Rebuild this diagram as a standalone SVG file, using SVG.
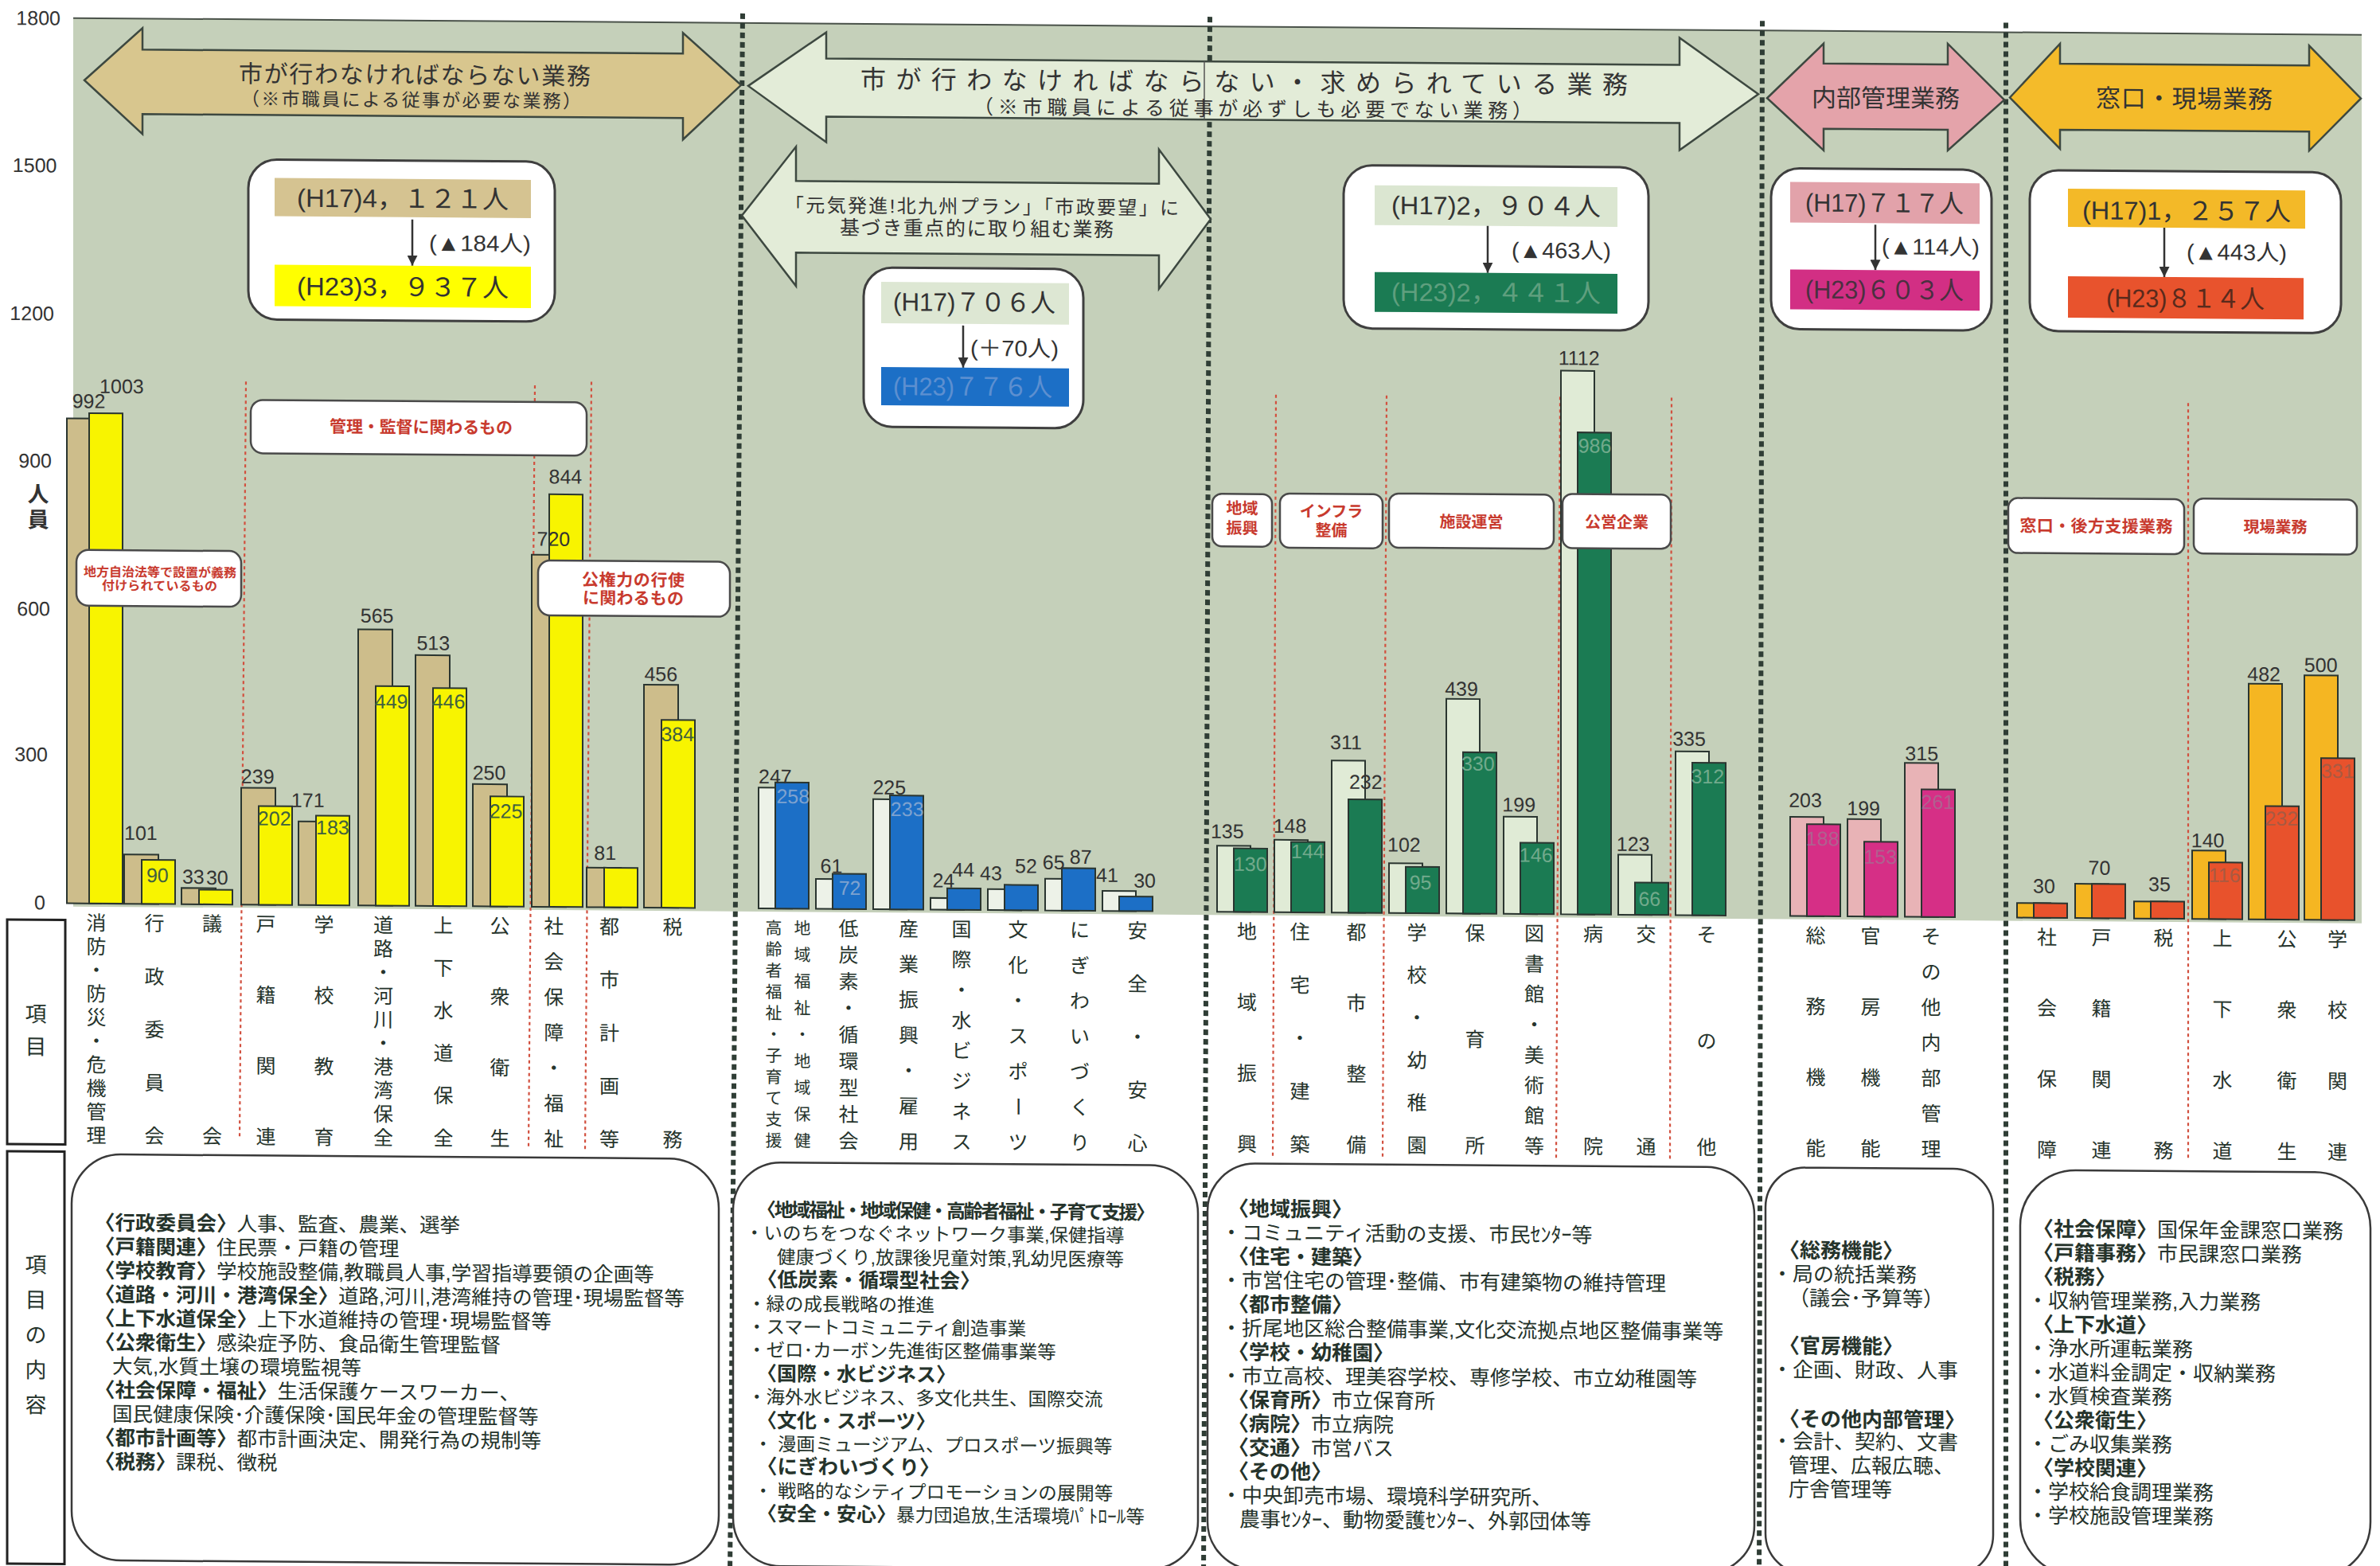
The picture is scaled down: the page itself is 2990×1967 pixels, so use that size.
<svg xmlns="http://www.w3.org/2000/svg" width="2990" height="1967" viewBox="0 0 2990 1967">
<defs>
<style>
.jp{font-family:'Liberation Sans','Noto Sans CJK JP',sans-serif}
.num{font-family:'Liberation Sans','Noto Sans CJK JP',sans-serif;font-size:25px;fill:#333;text-anchor:middle}
.ax{font-family:'Liberation Sans',sans-serif;font-size:25px;fill:#333;text-anchor:end}
.iy{fill:#3f6040}.ib{fill:#7ea2cf}.ig{fill:#72aa8c}.ip{fill:#b0608f}.io{fill:#a85a42}
.dv{stroke:#2f3d35;stroke-width:6;stroke-dasharray:7 5;fill:none}
.rd{stroke:#d2503f;stroke-width:2.2;stroke-dasharray:4 4;fill:none}
.bar{stroke:#2a3530;stroke-width:2}
.s1a{fill:#cdbd8b}.s1b{fill:#f8f400}.s2a{fill:#edf2e8}.s2b{fill:#1c6fc6}.s3a{fill:#e0ebd6}.s3b{fill:#1b7b53}
.s4a{fill:#e8b3b6}.s4b{fill:#d62f86}.s5a{fill:#f5b622}.s5b{fill:#e8522c}
.arw{stroke:#3d4840;stroke-width:2.5}
.at{font-family:'Liberation Sans','Noto Sans CJK JP',sans-serif;fill:#333;text-anchor:middle}
.sbox{fill:#fff;stroke:#3f3f3f;stroke-width:3}
.bt{font-family:'Liberation Sans','Noto Sans CJK JP',sans-serif;font-size:32px;fill:#333;text-anchor:middle}
.dt{font-family:'Liberation Sans','Noto Sans CJK JP',sans-serif;font-size:28px;fill:#333;text-anchor:middle}
.sar{stroke:#333;stroke-width:2.5}
.cat{fill:#fff;stroke:#4a4a4a;stroke-width:2.5}
.ctt{font-family:'Liberation Sans','Noto Sans CJK JP',sans-serif;font-weight:bold;fill:#c83a2e;text-anchor:middle}
.it{font-family:'Noto Sans CJK JP',sans-serif;font-size:25px;fill:#26342c;text-anchor:middle}
.it2{font-family:'Noto Sans CJK JP',sans-serif;font-size:21px;fill:#26342c;text-anchor:middle}
.lb{fill:#fff;stroke:#222;stroke-width:3}
.lt{font-family:'Noto Sans CJK JP',sans-serif;font-size:27px;fill:#26342c;text-anchor:middle}
.cb{fill:#fff;stroke:#3a3a3a;stroke-width:2.5}
.ct{font-family:'Liberation Sans','Noto Sans CJK JP',sans-serif;fill:#25332b}
.b{font-weight:bold}
</style>
<marker id="ah" viewBox="0 0 10 10" refX="10" refY="5" markerWidth="13" markerHeight="13" markerUnits="userSpaceOnUse" orient="auto"><path d="M0,0 L10,5 L0,10 z" fill="#333"/></marker>
</defs>
<rect x="0" y="0" width="2990" height="1967" fill="#fff"/>
<g transform="skewY(0.42)">
<g id="chart-bg">
<rect x="92" y="22" width="2875" height="1116" fill="#c5d0ba"/>
<line x1="92" y1="22" x2="2967" y2="22" stroke="#4a524a" stroke-width="2"/>
</g>
<g id="connectors">
<line class="dv" x1="933" y1="10" x2="917" y2="1975"/>
<line class="dv" x1="1520" y1="10" x2="1512" y2="1975"/>
<line class="dv" x1="2214" y1="10" x2="2210" y2="1975"/>
<line class="dv" x1="2520" y1="10" x2="2520" y2="1975"/>
<line class="rd" x1="309" y1="477" x2="301" y2="1428"/>
<line class="rd" x1="672" y1="479" x2="664" y2="1436"/>
<line class="rd" x1="743" y1="474" x2="735" y2="1438"/>
<line class="rd" x1="1603" y1="484" x2="1599" y2="1440"/>
<line class="rd" x1="1742" y1="484" x2="1737" y2="1440"/>
<line class="rd" x1="1960" y1="484" x2="1955" y2="1440"/>
<line class="rd" x1="2100" y1="484" x2="2098" y2="1440"/>
<line class="rd" x1="2749" y1="486" x2="2749" y2="1435"/>
</g>
<g id="y-axis">
<text class="ax" x="76" y="31">1800</text>
<text class="ax" x="71.5" y="216">1500</text>
<text class="ax" x="68" y="402">1200</text>
<text class="ax" x="65" y="587">900</text>
<text class="ax" x="63" y="773">600</text>
<text class="ax" x="60" y="956">300</text>
<text class="ax" x="57" y="1142">0</text>
<text class="jp" x="48" y="630" font-size="27" font-weight="bold" fill="#333" text-anchor="middle">人</text>
<text class="jp" x="48" y="662" font-size="27" font-weight="bold" fill="#333" text-anchor="middle">員</text>
</g>
<g id="arrow-must">
<polygon class="arw" fill="#d8c68e" points="106,100 179,34 179,61 858,61 858,35 931,100 858,169 858,142 179,142 179,167"/>
<text class="at" x="521" y="101" font-size="30" textLength="442">市が行わなければならない業務</text>
<text class="at" x="516.5" y="130" font-size="23" textLength="427">（※市職員による従事が必要な業務）</text>
</g>
<g id="arrow-required">
<polygon class="arw" fill="#e3ecd8" points="940,101 1038,33 1038,66 2110,66 2110,32 2209,102 2110,173 2110,139 1038,139 1038,171"/>
<line x1="1513" y1="66" x2="1513" y2="139" stroke="#555" stroke-width="1.5"/>
<text class="at" x="1563" y="103" font-size="32" textLength="964">市が行わなければならない・求められている業務</text>
<text class="at" x="1574" y="134" font-size="25" textLength="702">（※市職員による従事が必ずしも必要でない業務）</text>
</g>
<g id="arrow-plan">
<polygon class="arw" fill="#e3ecd8" points="932,264 1000,177 1000,220 1456,220 1456,177 1521,264 1456,352 1456,310 1000,310 1000,352"/>
<text class="at" x="1233.5" y="259" font-size="24" textLength="495">「元気発進!北九州プラン」「市政要望」に</text>
<text class="at" x="1227" y="287" font-size="25" textLength="344">基づき重点的に取り組む業務</text>
</g>
<g id="arrow-internal">
<polygon class="arw" fill="#e4a3aa" points="2220,107 2291,38 2291,63 2447,63 2447,37 2518,107 2447,171 2447,145 2291,145 2291,172"/>
<text class="at" x="2369" y="117" font-size="31" textLength="186">内部管理業務</text>
</g>
<g id="arrow-window">
<polygon class="arw" fill="#f4bb2a" points="2525,104 2588,36 2588,61 2901,61 2901,36 2966,102 2901,168 2901,144 2588,144 2588,168"/>
<text class="at" x="2744" y="115" font-size="31" textLength="222">窓口・現場業務</text>
</g>
<g id="summary-must">
<rect class="sbox" x="312" y="198" width="385" height="201" rx="36"/>
<rect x="345" y="221" width="322" height="48" fill="#d5c391"/>
<text class="bt" x="506" y="257" textLength="266" lengthAdjust="spacingAndGlyphs">(H17)4，１２１人</text>
<line class="sar" x1="518" y1="272" x2="518" y2="330" marker-end="url(#ah)"/>
<text class="dt" x="603" y="311" textLength="128" lengthAdjust="spacingAndGlyphs">(▲184人)</text>
<rect x="345" y="330" width="322" height="52" fill="#ffff00"/>
<text class="bt" x="506" y="368" textLength="266" lengthAdjust="spacingAndGlyphs">(H23)3，９３７人</text>
</g>
<g id="summary-plan">
<rect class="sbox" x="1085" y="328" width="276" height="200" rx="36"/>
<rect x="1107" y="346" width="236" height="52" fill="#dde7d3"/>
<text class="bt" x="1224" y="382" textLength="204" lengthAdjust="spacingAndGlyphs">(H17)７０６人</text>
<line class="sar" x1="1210" y1="400" x2="1210" y2="453" marker-end="url(#ah)"/>
<text class="dt" x="1274.5" y="438" textLength="111" lengthAdjust="spacingAndGlyphs">(＋70人)</text>
<rect x="1107" y="453" width="236" height="48" fill="#1c6fc6"/>
<text class="bt" x="1222" y="488" textLength="200" lengthAdjust="spacingAndGlyphs" style="fill:#5d8fd0">(H23)７７６人</text>
</g>
<g id="summary-required">
<rect class="sbox" x="1688" y="195" width="383" height="205" rx="36"/>
<rect x="1727" y="220" width="305" height="50" fill="#dbe6d1"/>
<text class="bt" x="1879.5" y="256" textLength="263" lengthAdjust="spacingAndGlyphs">(H17)2，９０４人</text>
<line class="sar" x1="1869" y1="270" x2="1869" y2="329" marker-end="url(#ah)"/>
<text class="dt" x="1961.5" y="310" textLength="125" lengthAdjust="spacingAndGlyphs">(▲463人)</text>
<rect x="1727" y="329" width="305" height="50" fill="#1b7b53"/>
<text class="bt" x="1879.5" y="365" textLength="263" lengthAdjust="spacingAndGlyphs" style="fill:#5f9f7e">(H23)2，４４１人</text>
</g>
<g id="summary-internal">
<rect class="sbox" x="2225" y="195" width="277" height="202" rx="36"/>
<rect x="2249" y="212" width="238" height="51" fill="#e2a2aa"/>
<text class="bt" x="2367.5" y="249" textLength="199" lengthAdjust="spacingAndGlyphs">(H17)７１７人</text>
<line class="sar" x1="2356" y1="265" x2="2356" y2="322" marker-end="url(#ah)"/>
<text class="dt" x="2425.5" y="302" textLength="123" lengthAdjust="spacingAndGlyphs">(▲114人)</text>
<rect x="2249" y="322" width="238" height="50" fill="#d22f84"/>
<text class="bt" x="2367.5" y="358" textLength="199" lengthAdjust="spacingAndGlyphs" style="fill:#4a3040">(H23)６０３人</text>
</g>
<g id="summary-window">
<rect class="sbox" x="2550" y="195" width="391" height="202" rx="36"/>
<rect x="2598" y="218" width="298" height="48" fill="#f3b928"/>
<text class="bt" x="2747" y="256" textLength="262" lengthAdjust="spacingAndGlyphs">(H17)1，２５７人</text>
<line class="sar" x1="2719" y1="266" x2="2719" y2="328" marker-end="url(#ah)"/>
<text class="dt" x="2810" y="306" textLength="126" lengthAdjust="spacingAndGlyphs">(▲443人)</text>
<rect x="2598" y="328" width="296" height="52" fill="#e8532d"/>
<text class="bt" x="2745.5" y="366" textLength="199" lengthAdjust="spacingAndGlyphs" style="fill:#5a2a1c">(H23)８１４人</text>
</g>
<g id="bars-must">
<rect class="bar s1a" x="84" y="524.9" width="43" height="609.1"/><rect class="bar s1b" x="112" y="518.2" width="42" height="615.8"/>
<rect class="bar s1a" x="156" y="1072" width="43" height="62"/><rect class="bar s1b" x="178" y="1078.7" width="42" height="55.3"/>
<rect class="bar s1a" x="228" y="1113.7" width="43" height="20.3"/><rect class="bar s1b" x="250" y="1115.6" width="42" height="18.4"/>
<rect class="bar s1a" x="303" y="987.3" width="43" height="146.7"/><rect class="bar s1b" x="325" y="1010" width="42" height="124"/>
<rect class="bar s1a" x="375" y="1029" width="43" height="105"/><rect class="bar s1b" x="397" y="1021.6" width="42" height="112.4"/>
<rect class="bar s1a" x="450" y="787.1" width="43" height="346.9"/><rect class="bar s1b" x="472" y="858.3" width="42" height="275.7"/>
<rect class="bar s1a" x="522" y="819" width="43" height="315"/><rect class="bar s1b" x="544" y="860.2" width="42" height="273.8"/>
<rect class="bar s1a" x="594" y="980.5" width="43" height="153.5"/><rect class="bar s1b" x="616" y="995.8" width="42" height="138.2"/>
<rect class="bar s1a" x="668" y="691.9" width="43" height="442.1"/><rect class="bar s1b" x="690" y="615.8" width="42" height="518.2"/>
<rect class="bar s1a" x="737" y="1084.3" width="43" height="49.7"/><rect class="bar s1b" x="759" y="1084.3" width="42" height="49.7"/>
<rect class="bar s1a" x="809" y="854" width="43" height="280"/><rect class="bar s1b" x="831" y="898.2" width="42" height="235.8"/>
<text class="num" x="111.5" y="511.7">992</text><text class="num" x="152.9" y="492.9">1003</text>
<text class="num" x="176.9" y="1053.7">101</text><text class="num iy" x="197.8" y="1106.6">90</text>
<text class="num" x="242.8" y="1108.2">33</text><text class="num" x="272.8" y="1109">30</text>
<text class="num" x="323.7" y="981.6">239</text><text class="num iy" x="344.7" y="1034.2">202</text>
<text class="num" x="386.7" y="1011">171</text><text class="num iy" x="417.9" y="1045">183</text>
<text class="num" x="473.6" y="778.5">565</text><text class="num iy" x="491.6" y="886.2">449</text>
<text class="num" x="544.3" y="812.4">513</text><text class="num iy" x="563.5" y="885.7">446</text>
<text class="num" x="614.5" y="974.8">250</text><text class="num iy" x="635.5" y="1022.9">225</text>
<text class="num" x="695.4" y="680.5">720</text><text class="num" x="710.4" y="602.3">844</text>
<text class="num" x="760.2" y="1074.5">81</text>
<text class="num" x="830.3" y="849.3">456</text><text class="num iy" x="851.3" y="924.8">384</text>
</g>
<g id="bars-plan">
<rect class="bar s2a" x="953" y="982.3" width="42" height="151.7"/><rect class="bar s2b" x="974" y="975.6" width="42" height="158.4"/>
<rect class="bar s2a" x="1025" y="1096.5" width="42" height="37.5"/><rect class="bar s2b" x="1046" y="1089.8" width="42" height="44.2"/>
<rect class="bar s2a" x="1097" y="995.8" width="42" height="138.2"/><rect class="bar s2b" x="1118" y="990.9" width="42" height="143.1"/>
<rect class="bar s2a" x="1169" y="1119.3" width="42" height="14.7"/><rect class="bar s2b" x="1190" y="1107" width="42" height="27"/>
<rect class="bar s2a" x="1241" y="1107.6" width="42" height="26.4"/><rect class="bar s2b" x="1262" y="1102.1" width="42" height="31.9"/>
<rect class="bar s2a" x="1313" y="1094.1" width="42" height="39.9"/><rect class="bar s2b" x="1334" y="1080.6" width="42" height="53.4"/>
<rect class="bar s2a" x="1385" y="1108.8" width="42" height="25.2"/><rect class="bar s2b" x="1406" y="1115.6" width="42" height="18.4"/>
<text class="num" x="973.9" y="976.9">247</text><text class="num ib" x="996.3" y="1001.7">258</text>
<text class="num" x="1044.4" y="1088.8">61</text><text class="num ib" x="1067.6" y="1116.2">72</text>
<text class="num" x="1117.3" y="989.5">225</text><text class="num ib" x="1139.7" y="1016.7">233</text>
<text class="num" x="1185.3" y="1106">24</text><text class="num" x="1210.2" y="1092.2">44</text>
<text class="num" x="1245" y="1096.5">43</text><text class="num" x="1288.9" y="1087">52</text>
<text class="num" x="1323.7" y="1082.1">65</text><text class="num" x="1357.7" y="1075.1">87</text>
<text class="num" x="1390.9" y="1097.6">41</text><text class="num" x="1438.1" y="1104.2">30</text>
</g>
<g id="bars-required">
<rect class="bar s3a" x="1529" y="1051.1" width="42" height="82.9"/><rect class="bar s3b" x="1550" y="1054.2" width="42" height="79.8"/>
<rect class="bar s3a" x="1601" y="1043.1" width="42" height="90.9"/><rect class="bar s3b" x="1622" y="1045.6" width="42" height="88.4"/>
<rect class="bar s3a" x="1673" y="943" width="42" height="191"/><rect class="bar s3b" x="1694" y="991.6" width="42" height="142.4"/>
<rect class="bar s3a" x="1745" y="1071.4" width="42" height="62.6"/><rect class="bar s3b" x="1766" y="1075.7" width="42" height="58.3"/>
<rect class="bar s3a" x="1817" y="864.5" width="42" height="269.5"/><rect class="bar s3b" x="1838" y="931.4" width="42" height="202.6"/>
<rect class="bar s3a" x="1889" y="1011.8" width="42" height="122.2"/><rect class="bar s3b" x="1910" y="1044.4" width="42" height="89.6"/>
<rect class="bar s3a" x="1961" y="451.2" width="42" height="682.8"/><rect class="bar s3b" x="1982" y="528.6" width="42" height="605.4"/>
<rect class="bar s3a" x="2033" y="1058.5" width="42" height="75.5"/><rect class="bar s3b" x="2054" y="1093.5" width="42" height="40.5"/>
<rect class="bar s3a" x="2105" y="928.3" width="42" height="205.7"/><rect class="bar s3b" x="2126" y="942.4" width="42" height="191.6"/>
<text class="num" x="1541.8" y="1041.5">135</text><text class="num ig" x="1570.8" y="1082.5">130</text>
<text class="num" x="1620.5" y="1034.2">148</text><text class="num ig" x="1642.9" y="1066">144</text>
<text class="num" x="1691" y="928.7">311</text><text class="num" x="1715.8" y="978.3">232</text>
<text class="num" x="1763.9" y="1056.8">102</text><text class="num ig" x="1784.6" y="1104">95</text>
<text class="num" x="1836" y="860.4">439</text><text class="num ig" x="1856.8" y="954.3">330</text>
<text class="num" x="1908.2" y="1005.4">199</text><text class="num ig" x="1929.7" y="1068.5">146</text>
<text class="num" x="1983.6" y="443.9">1112</text><text class="num ig" x="2003.5" y="553.9">986</text>
<text class="num" x="2051.6" y="1053.8">123</text><text class="num ig" x="2072.3" y="1122.6">66</text>
<text class="num" x="2122" y="921.1">335</text><text class="num ig" x="2145.3" y="968.3">312</text>
</g>
<g id="bars-internal">
<rect class="bar s4a" x="2249" y="1009.4" width="42" height="124.6"/><rect class="bar s4b" x="2270" y="1018.6" width="42" height="115.4"/>
<rect class="bar s4a" x="2321" y="1011.8" width="42" height="122.2"/><rect class="bar s4b" x="2342" y="1040.1" width="42" height="93.9"/>
<rect class="bar s4a" x="2393" y="940.6" width="42" height="193.4"/><rect class="bar s4b" x="2414" y="973.7" width="42" height="160.3"/>
<text class="num" x="2268" y="997.2">203</text><text class="num ip" x="2289.7" y="1045.3">188</text>
<text class="num" x="2341.1" y="1006.7">199</text><text class="num ip" x="2362.3" y="1067.6">153</text>
<text class="num" x="2414.2" y="937.4">315</text><text class="num ip" x="2434.4" y="998.2">261</text>
</g>
<g id="bars-window">
<rect class="bar s5a" x="2534" y="1115.6" width="42" height="18.4"/><rect class="bar s5b" x="2555" y="1115.6" width="42" height="18.4"/>
<rect class="bar s5a" x="2607" y="1091" width="42" height="43"/><rect class="bar s5b" x="2628" y="1091" width="42" height="43"/>
<rect class="bar s5a" x="2681" y="1112.5" width="42" height="21.5"/><rect class="bar s5b" x="2702" y="1112.5" width="42" height="21.5"/>
<rect class="bar s5a" x="2754" y="1048" width="42" height="86"/><rect class="bar s5b" x="2775" y="1062.8" width="42" height="71.2"/>
<rect class="bar s5a" x="2825" y="838" width="42" height="296"/><rect class="bar s5b" x="2846" y="991.6" width="42" height="142.4"/>
<rect class="bar s5a" x="2895" y="827" width="42" height="307"/><rect class="bar s5b" x="2916" y="930.8" width="42" height="203.2"/>
<text class="num" x="2567.9" y="1102.9">30</text>
<text class="num" x="2637.5" y="1079.4">70</text>
<text class="num" x="2713" y="1099.5">35</text>
<text class="num" x="2773.6" y="1044">140</text><text class="num io" x="2794.7" y="1087.4">116</text>
<text class="num" x="2844.1" y="834.6">482</text><text class="num io" x="2866.3" y="1015.8">232</text>
<text class="num" x="2915.7" y="822.6">500</text><text class="num io" x="2936.8" y="955.6">331</text>
</g>
<g id="cat-kanri">
<rect class="cat" x="315" y="500" width="422" height="67" rx="15"/>
<text class="ctt" x="529" y="540" font-size="21" textLength="230">管理・監督に関わるもの</text>
</g>
<g id="cat-gimu">
<rect class="cat" x="96" y="690" width="207" height="70" rx="15"/>
<text class="ctt" x="201" y="723" font-size="16" textLength="192">地方自治法等で設置が義務</text>
<text class="ctt" x="200.5" y="740" font-size="16" textLength="145">付けられているもの</text>
</g>
<g id="cat-kokenryoku">
<rect class="cat" x="676" y="699" width="241" height="69" rx="15"/>
<text class="ctt" x="795.5" y="730" font-size="21" textLength="129">公権力の行使</text>
<text class="ctt" x="795.5" y="753" font-size="21" textLength="127">に関わるもの</text>
</g>
<g id="cat-chiiki">
<rect class="cat" x="1523" y="609" width="75" height="66" rx="12"/>
<text class="ctt" x="1560.5" y="634" font-size="20">地域</text>
<text class="ctt" x="1560.5" y="659" font-size="20">振興</text>
</g>
<g id="cat-infra">
<rect class="cat" x="1608" y="608" width="129" height="68" rx="12"/>
<text class="ctt" x="1672.5" y="637" font-size="20">インフラ</text>
<text class="ctt" x="1672.5" y="661" font-size="20">整備</text>
</g>
<g id="cat-shisetsu">
<rect class="cat" x="1745" y="607" width="207" height="68" rx="12"/>
<text class="ctt" x="1848.5" y="649" font-size="20">施設運営</text>
</g>
<g id="cat-koei">
<rect class="cat" x="1963" y="606" width="136" height="68" rx="12"/>
<text class="ctt" x="2031" y="648" font-size="20">公営企業</text>
</g>
<g id="cat-madoguchi">
<rect class="cat" x="2523" y="607" width="221" height="69" rx="12"/>
<text class="ctt" x="2633.5" y="649" font-size="21" textLength="192">窓口・後方支援業務</text>
</g>
<g id="cat-genba">
<rect class="cat" x="2756" y="606" width="205" height="69" rx="12"/>
<text class="ctt" x="2858.5" y="648" font-size="20">現場業務</text>
</g>
<g id="label-items">
<rect class="lb" x="9" y="1155" width="73" height="282"/>
<text class="lt" x="45" y="1283">項</text>
<text class="lt" x="45" y="1324">目</text>
</g>
<g id="label-contents">
<rect class="lb" x="9" y="1446" width="72" height="518"/>
<text class="lt" x="45" y="1598">項</text>
<text class="lt" x="45" y="1642">目</text>
<text class="lt" x="45" y="1686">の</text>
<text class="lt" x="45" y="1730">内</text>
<text class="lt" x="45" y="1774">容</text>
</g>
<g id="items">
<text class="it" x="121 121 121 121 121 121 121 121 121 121" y="1167.5 1197.2 1226.8 1256.5 1286.2 1315.8 1345.5 1375.2 1404.8 1434.5">消防・防災・危機管理</text>
<text class="it" x="194 194 194 194 194" y="1167.5 1234.3 1301 1367.8 1434.5">行政委員会</text>
<text class="it" x="266.5 266.5" y="1167.5 1434.5">議会</text>
<text class="it" x="334 334 334 334" y="1167.5 1256.5 1345.5 1434.5">戸籍関連</text>
<text class="it" x="407 407 407 407" y="1167.5 1256.5 1345.5 1434.5">学校教育</text>
<text class="it" x="481.6 481.6 481.6 481.6 481.6 481.6 481.6 481.6 481.6 481.6" y="1167.5 1197.2 1226.8 1256.5 1286.2 1315.8 1345.5 1375.2 1404.8 1434.5">道路・河川・港湾保全</text>
<text class="it" x="557 557 557 557 557 557" y="1167.5 1220.9 1274.3 1327.7 1381.1 1434.5">上下水道保全</text>
<text class="it" x="628 628 628 628" y="1167.5 1256.5 1345.5 1434.5">公衆衛生</text>
<text class="it" x="695.7 695.7 695.7 695.7 695.7 695.7 695.7" y="1167.5 1212 1256.5 1301 1345.5 1390 1434.5">社会保障・福祉</text>
<text class="it" x="765.5 765.5 765.5 765.5 765.5" y="1167.5 1234.3 1301 1367.8 1434.5">都市計画等</text>
<text class="it" x="845 845" y="1167.5 1434.5">税務</text>
<text class="it2" x="972 972 972 972 972 972 972 972 972 972 972" y="1166 1192.7 1219.4 1246.1 1272.8 1299.5 1326.2 1352.9 1379.6 1406.3 1433">高齢者福祉・子育て支援</text>
<text class="it2" x="1008 1008 1008 1008 1008 1008 1008 1008 1008" y="1166 1199.4 1232.8 1266.1 1299.5 1332.9 1366.3 1399.6 1433">地域福祉・地域保健</text>
<text class="it" x="1066 1066 1066 1066 1066 1066 1066 1066 1066" y="1167.5 1200.9 1234.3 1267.6 1301 1334.4 1367.8 1401.1 1434.5">低炭素・循環型社会</text>
<text class="it" x="1141.5 1141.5 1141.5 1141.5 1141.5 1141.5 1141.5" y="1167.5 1212 1256.5 1301 1345.5 1390 1434.5">産業振興・雇用</text>
<text class="it" x="1208 1208 1208 1208 1208 1208 1208 1208" y="1167.5 1205.6 1243.8 1281.9 1320.1 1358.2 1396.4 1434.5">国際・水ビジネス</text>
<text class="it" x="1279 1279 1279 1279 1279" y="1167.5 1212 1256.5 1301 1345.5">文化・スポ</text>
<text class="it" x="1279" y="1390" transform="rotate(90 1279 1380.5)">ー</text>
<text class="it" x="1279" y="1434.5">ツ</text>
<text class="it" x="1356.6 1356.6 1356.6 1356.6 1356.6 1356.6 1356.6" y="1167.5 1212 1256.5 1301 1345.5 1390 1434.5">にぎわいづくり</text>
<text class="it" x="1429 1429 1429 1429 1429" y="1167.5 1234.3 1301 1367.8 1434.5">安全・安心</text>
<text class="it" x="1566.5 1566.5 1566.5 1566.5" y="1167.5 1256.5 1345.5 1434.5">地域振興</text>
<text class="it" x="1633 1633 1633 1633 1633" y="1167.5 1234.3 1301 1367.8 1434.5">住宅・建築</text>
<text class="it" x="1704 1704 1704 1704" y="1167.5 1256.5 1345.5 1434.5">都市整備</text>
<text class="it" x="1780 1780 1780 1780 1780 1780" y="1167.5 1220.9 1274.3 1327.7 1381.1 1434.5">学校・幼稚園</text>
<text class="it" x="1853 1853 1853" y="1167.5 1301 1434.5">保育所</text>
<text class="it" x="1927.5 1927.5 1927.5 1927.5 1927.5 1927.5 1927.5 1927.5" y="1167.5 1205.6 1243.8 1281.9 1320.1 1358.2 1396.4 1434.5">図書館・美術館等</text>
<text class="it" x="2001.6 2001.6" y="1167.5 1434.5">病院</text>
<text class="it" x="2068 2068" y="1167.5 1434.5">交通</text>
<text class="it" x="2144 2144 2144" y="1167.5 1301 1434.5">その他</text>
<text class="it" x="2281 2281 2281 2281" y="1167.5 1256.5 1345.5 1434.5">総務機能</text>
<text class="it" x="2350 2350 2350 2350" y="1167.5 1256.5 1345.5 1434.5">官房機能</text>
<text class="it" x="2426 2426 2426 2426 2426 2426 2426" y="1167.5 1212 1256.5 1301 1345.5 1390 1434.5">その他内部管理</text>
<text class="it" x="2571.6 2571.6 2571.6 2571.6" y="1167.5 1256.5 1345.5 1434.5">社会保障</text>
<text class="it" x="2640 2640 2640 2640" y="1167.5 1256.5 1345.5 1434.5">戸籍関連</text>
<text class="it" x="2718 2718" y="1167.5 1434.5">税務</text>
<text class="it" x="2792 2792 2792 2792" y="1167.5 1256.5 1345.5 1434.5">上下水道</text>
<text class="it" x="2873 2873 2873 2873" y="1167.5 1256.5 1345.5 1434.5">公衆衛生</text>
<text class="it" x="2936.4 2936.4 2936.4 2936.4" y="1167.5 1256.5 1345.5 1434.5">学校関連</text>
</g>
<g id="content-must">
<rect class="cb" x="90" y="1449" width="813" height="510" rx="62"/>
<g class="ct" font-size="25.5">
<text x="119" y="1544"><tspan class="b">〈行政委員会〉</tspan>人事、監査、農業、選挙</text>
<text x="119" y="1574"><tspan class="b">〈戸籍関連〉</tspan>住民票・戸籍の管理</text>
<text x="119" y="1604"><tspan class="b">〈学校教育〉</tspan>学校施設整備,教職員人事,学習指導要領の企画等</text>
<text x="119" y="1634"><tspan class="b">〈道路・河川・港湾保全〉</tspan>道路,河川,港湾維持の管理･現場監督等</text>
<text x="119" y="1664"><tspan class="b">〈上下水道保全〉</tspan>上下水道維持の管理･現場監督等</text>
<text x="119" y="1694"><tspan class="b">〈公衆衛生〉</tspan>感染症予防、食品衛生管理監督</text>
<text x="141" y="1724">大気,水質土壌の環境監視等</text>
<text x="119" y="1754"><tspan class="b">〈社会保障・福祉〉</tspan>生活保護ケースワーカー、</text>
<text x="141" y="1784">国民健康保険･介護保険･国民年金の管理監督等</text>
<text x="119" y="1814"><tspan class="b">〈都市計画等〉</tspan>都市計画決定、開発行為の規制等</text>
<text x="119" y="1844"><tspan class="b">〈税務〉</tspan>課税、徴税</text>
</g>
</g>
<g id="content-plan">
<rect class="cb" x="921" y="1453" width="584" height="507" rx="60"/>
<g class="ct" font-size="23.5">
<text x="951" y="1521" class="b" textLength="500" font-size="24">〈地域福祉・地域保健・高齢者福祉・子育て支援〉</text>
<text x="936" y="1550">・いのちをつなぐネットワーク事業,保健指導</text>
<text x="976" y="1580">健康づくり,放課後児童対策,乳幼児医療等</text>
<text x="951" y="1609" class="b" font-size="25.5">〈低炭素・循環型社会〉</text>
<text x="939" y="1639">・緑の成長戦略の推進</text>
<text x="939" y="1668">・スマートコミュニティ創造事業</text>
<text x="939" y="1697">・ゼロ･カーボン先進街区整備事業等</text>
<text x="951" y="1727" class="b" font-size="25">〈国際・水ビジネス〉</text>
<text x="939" y="1756">・海外水ビジネス、多文化共生、国際交流</text>
<text x="951" y="1786" class="b" font-size="25">〈文化・スポーツ〉</text>
<text x="947" y="1815">・ 漫画ミュージアム、プロスポーツ振興等</text>
<text x="951" y="1844" class="b" font-size="25.5">〈にぎわいづくり〉</text>
<text x="947" y="1874">・ 戦略的なシティプロモーションの展開等</text>
<text x="951" y="1903"><tspan class="b" font-size="25">〈安全・安心〉</tspan>暴力団追放,生活環境ﾊﾟﾄﾛｰﾙ等</text>
</g>
</g>
<g id="content-required">
<rect class="cb" x="1517" y="1450" width="687" height="510" rx="60"/>
<g class="ct" font-size="26">
<text x="1543" y="1516" class="b">〈地域振興〉</text>
<text x="1534" y="1546">・コミュニティ活動の支援、市民ｾﾝﾀｰ等</text>
<text x="1543" y="1576" class="b">〈住宅・建築〉</text>
<text x="1534" y="1606">・市営住宅の管理･整備、市有建築物の維持管理</text>
<text x="1543" y="1636" class="b">〈都市整備〉</text>
<text x="1534" y="1666">・折尾地区総合整備事業,文化交流拠点地区整備事業等</text>
<text x="1543" y="1696" class="b">〈学校・幼稚園〉</text>
<text x="1534" y="1726">・市立高校、理美容学校、専修学校、市立幼稚園等</text>
<text x="1543" y="1756"><tspan class="b">〈保育所〉</tspan>市立保育所</text>
<text x="1543" y="1786"><tspan class="b">〈病院〉</tspan>市立病院</text>
<text x="1543" y="1816"><tspan class="b">〈交通〉</tspan>市営バス</text>
<text x="1543" y="1846" class="b">〈その他〉</text>
<text x="1534" y="1876">・中央卸売市場、環境科学研究所、</text>
<text x="1557" y="1906">農事ｾﾝﾀｰ、動物愛護ｾﾝﾀｰ、外郭団体等</text>
</g>
</g>
<g id="content-internal">
<rect class="cb" x="2218" y="1450" width="286" height="510" rx="50"/>
<g class="ct" font-size="26">
<text x="2235" y="1563" class="b">〈総務機能〉</text>
<text x="2226" y="1593">・局の統括業務</text>
<text x="2247" y="1623">（議会･予算等）</text>
<text x="2235" y="1683" class="b">〈官房機能〉</text>
<text x="2226" y="1713">・企画、財政、人事</text>
<text x="2235" y="1775" class="b">〈その他内部管理〉</text>
<text x="2226" y="1803">・会計、契約、文書</text>
<text x="2247" y="1833">管理、広報広聴、</text>
<text x="2247" y="1863">庁舎管理等</text>
</g>
</g>
<g id="content-window">
<rect class="cb" x="2538" y="1451" width="440" height="509" rx="70"/>
<g class="ct" font-size="26">
<text x="2554" y="1534"><tspan class="b">〈社会保障〉</tspan>国保年金課窓口業務</text>
<text x="2554" y="1564"><tspan class="b">〈戸籍事務〉</tspan>市民課窓口業務</text>
<text x="2554" y="1594" class="b">〈税務〉</text>
<text x="2547" y="1624">・収納管理業務,入力業務</text>
<text x="2554" y="1654" class="b">〈上下水道〉</text>
<text x="2547" y="1684">・浄水所運転業務</text>
<text x="2547" y="1714">・水道料金調定・収納業務</text>
<text x="2547" y="1744">・水質検査業務</text>
<text x="2554" y="1774" class="b">〈公衆衛生〉</text>
<text x="2547" y="1804">・ごみ収集業務</text>
<text x="2554" y="1834" class="b">〈学校関連〉</text>
<text x="2547" y="1864">・学校給食調理業務</text>
<text x="2547" y="1894">・学校施設管理業務</text>
</g>
</g>
</g>
</svg>
